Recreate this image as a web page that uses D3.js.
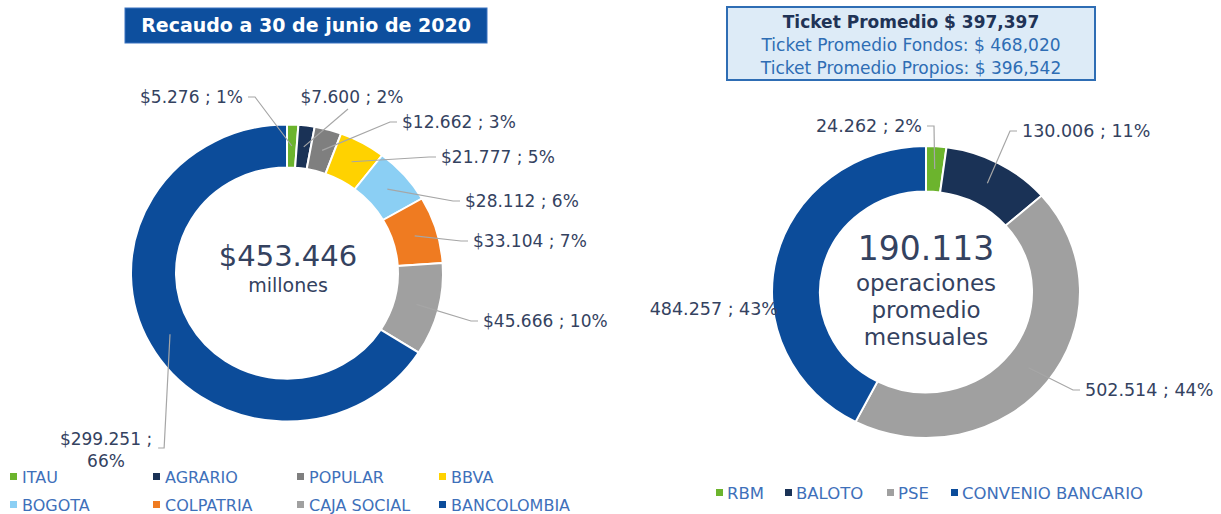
<!DOCTYPE html>
<html>
<head>
<meta charset="utf-8">
<script src="https://cdn.jsdelivr.net/npm/d3@7"></script>
<style>
  body { margin: 0; background: #fff; }
  svg { display: block; }
  text { font-family: "Century Gothic", "DejaVu Sans", sans-serif; }
</style>
</head>
<body>
<svg id="chart" width="1221" height="514"></svg>
<script>
// ---- data ----
var leftCats = ["ITAU", "AGRARIO", "POPULAR", "BBVA", "BOGOTA", "COLPATRIA", "CAJA SOCIAL", "BANCOLOMBIA"];
var leftValues = [5276, 7600, 12662, 21777, 28112, 33104, 45666, 299251];
var leftPct = ["1%", "2%", "3%", "5%", "6%", "7%", "10%", "66%"];
var leftTotal = 453446;

var rightCats = ["RBM", "BALOTO", "PSE", "CONVENIO BANCARIO"];
var rightValues = [24262, 130006, 502514, 484257];
var rightPct = ["2%", "11%", "44%", "43%"];
var rightOps = 190113;

var tickets = ["Ticket Promedio $ 397,397", "Ticket Promedio Fondos: $ 468,020", "Ticket Promedio Propios: $ 396,542"];
var title = "Recaudo a 30 de junio de 2020";

// ---- styles ----
var leftColors = ["#6cb42d", "#1a3256", "#7f7f7f", "#ffd200", "#8bcff4", "#ef7b21", "#a0a0a0", "#0c4c9a"];
var rightColors = ["#6cb42d", "#1a3256", "#a0a0a0", "#0c4c9a"];
var labelColor = "#34425f";
var legendColor = "#3e70ba";
var leaderColor = "#a6a6a6";

var loc = d3.formatLocale({ decimal: ",", thousands: ".", grouping: [3], currency: ["$", ""] });
var fmtMoney = loc.format("$,.0f");
var fmtNum = loc.format(",.0f");

var svg = d3.select("#chart");

// label placement (offset from donut centre)
var leftLayout = [
  { dx: -44, dy: -170, anchor: "end" },
  { dx: 65, dy: -170, anchor: "middle", lead: "below" },
  { dx: 115, dy: -145, anchor: "start" },
  { dx: 154, dy: -110, anchor: "start" },
  { dx: 178, dy: -66, anchor: "start" },
  { dx: 186, dy: -26, anchor: "start" },
  { dx: 196, dy: 54, anchor: "start" },
  { dx: -181, dy: 172, anchor: "middle", lead: "wrap" }
];
var rightLayout = [
  { dx: -4, dy: -160, anchor: "end" },
  { dx: 96, dy: -155, anchor: "start" },
  { dx: 159, dy: 104, anchor: "start" },
  { dx: -148, dy: 23, anchor: "end", lead: "none" }
];

function donut(cfg) {
  var pie = d3.pie().sort(null).value(function (d) { return d; });
  var arcs = pie(cfg.values);
  var arc = d3.arc().innerRadius(cfg.ri).outerRadius(cfg.ro);

  var g = svg.append("g").attr("transform", "translate(" + cfg.cx + "," + cfg.cy + ")");
  g.append("g")
    .attr("transform", "scale(1," + cfg.sy + ")")
    .selectAll("path")
    .data(arcs)
    .enter()
    .append("path")
      .attr("d", arc)
      .attr("fill", function (d, i) { return cfg.colors[i]; })
      .attr("stroke", "#fff")
      .attr("stroke-width", 2);

  var line = d3.line();
  arcs.forEach(function (d, i) {
    var L = cfg.layout[i];
    var c = arc.centroid(d);
    c = [c[0], c[1] * cfg.sy];
    var txt = cfg.fmt(cfg.values[i]) + " ; " + cfg.pct[i];
    var pts = null;
    if (L.lead === "wrap") {
      var t = g.append("text")
        .attr("x", L.dx).attr("y", L.dy)
        .attr("text-anchor", "middle")
        .attr("font-size", cfg.fs)
        .attr("fill", labelColor);
      t.append("tspan").attr("x", L.dx).text(cfg.fmt(cfg.values[i]) + " ;");
      t.append("tspan").attr("x", L.dx).attr("dy", 22).text(cfg.pct[i]);
      var w = t.select("tspan").node().getComputedTextLength();
      pts = [[L.dx + w / 2 + 6, L.dy + 3], [L.dx + w / 2 + 12, L.dy + 3], c];
    } else {
      g.append("text")
        .attr("x", L.dx).attr("y", L.dy)
        .attr("text-anchor", L.anchor)
        .attr("font-size", cfg.fs)
        .attr("fill", labelColor)
        .text(txt);
      var my = L.dy - 6;
      if (L.lead === "below") pts = [[L.dx - 4, L.dy + 6], c];
      else if (L.lead === "none") pts = null;
      else if (L.anchor === "end") pts = [[L.dx + 5, my], [L.dx + 12, my], c];
      else pts = [[L.dx - 5, my], [L.dx - 12, my], c];
    }
    if (pts) {
      g.append("path")
        .attr("d", line(pts))
        .attr("fill", "none")
        .attr("stroke", leaderColor)
        .attr("stroke-width", 1.2);
    }
  });
  return g;
}

// ---- left chart ----
svg.append("rect")
  .attr("x", 125).attr("y", 8).attr("width", 362).attr("height", 35)
  .attr("fill", "#0d4f9e").attr("stroke", "#3b73c0").attr("stroke-width", 1);
svg.append("text")
  .attr("x", 306).attr("y", 32)
  .attr("text-anchor", "middle")
  .attr("font-size", 19).attr("font-weight", "bold")
  .attr("fill", "#fff")
  .text(title);

var gl = donut({
  cx: 287, cy: 273, ro: 156, ri: 111, sy: 0.952,
  values: leftValues, colors: leftColors, pct: leftPct,
  layout: leftLayout, fmt: fmtMoney, fs: 17
});
gl.append("text")
  .attr("x", 1).attr("y", -7).attr("text-anchor", "middle")
  .attr("font-size", 29).attr("fill", labelColor)
  .text(fmtMoney(leftTotal));
gl.append("text")
  .attr("x", 1).attr("y", 19).attr("text-anchor", "middle")
  .attr("font-size", 19).attr("fill", labelColor)
  .text("millones");

// left legend, 4 per row
var legL = svg.append("g").selectAll("g")
  .data(leftCats)
  .enter()
  .append("g")
    .attr("transform", function (d, i) {
      return "translate(" + [10, 153, 297, 439][i % 4] + "," + (477 + Math.floor(i / 4) * 28) + ")";
    });
legL.append("rect")
  .attr("x", 0).attr("y", -4).attr("width", 7).attr("height", 7)
  .attr("fill", function (d, i) { return leftColors[i]; });
legL.append("text")
  .attr("x", 12).attr("y", 6)
  .attr("font-size", 16).attr("fill", legendColor)
  .text(function (d) { return d; });

// ---- right chart ----
svg.append("rect")
  .attr("x", 727).attr("y", 7).attr("width", 368).attr("height", 73)
  .attr("fill", "#ddebf7").attr("stroke", "#2e6db4").attr("stroke-width", 2);
svg.selectAll(".ticket")
  .data(tickets)
  .enter()
  .append("text")
    .attr("class", "ticket")
    .attr("x", 911)
    .attr("y", function (d, i) { return 28 + i * 23; })
    .attr("text-anchor", "middle")
    .attr("font-size", 17)
    .attr("font-weight", function (d, i) { return i === 0 ? "bold" : "normal"; })
    .attr("fill", function (d, i) { return i === 0 ? "#1f3356" : "#2e6db4"; })
    .text(function (d) { return d; });

var gr = donut({
  cx: 926, cy: 292, ro: 154, ri: 106, sy: 0.948,
  values: rightValues, colors: rightColors, pct: rightPct,
  layout: rightLayout, fmt: fmtNum, fs: 17.5
});
gr.append("text")
  .attr("x", 0).attr("y", -32).attr("text-anchor", "middle")
  .attr("font-size", 33).attr("fill", labelColor)
  .text(fmtNum(rightOps));
["operaciones", "promedio", "mensuales"].forEach(function (w, i) {
  gr.append("text")
    .attr("x", 0).attr("y", -1 + i * 27).attr("text-anchor", "middle")
    .attr("font-size", 23).attr("fill", labelColor)
    .text(w);
});

var legRX = [716, 785, 887, 951];
var legR = svg.append("g").selectAll("g")
  .data(rightCats)
  .enter()
  .append("g")
    .attr("transform", function (d, i) { return "translate(" + legRX[i] + ",493)"; });
legR.append("rect")
  .attr("x", 0).attr("y", -4).attr("width", 7).attr("height", 7)
  .attr("fill", function (d, i) { return rightColors[i]; });
legR.append("text")
  .attr("x", 11).attr("y", 6)
  .attr("font-size", 16.5).attr("fill", legendColor)
  .text(function (d) { return d; });
</script>
</body>
</html>
